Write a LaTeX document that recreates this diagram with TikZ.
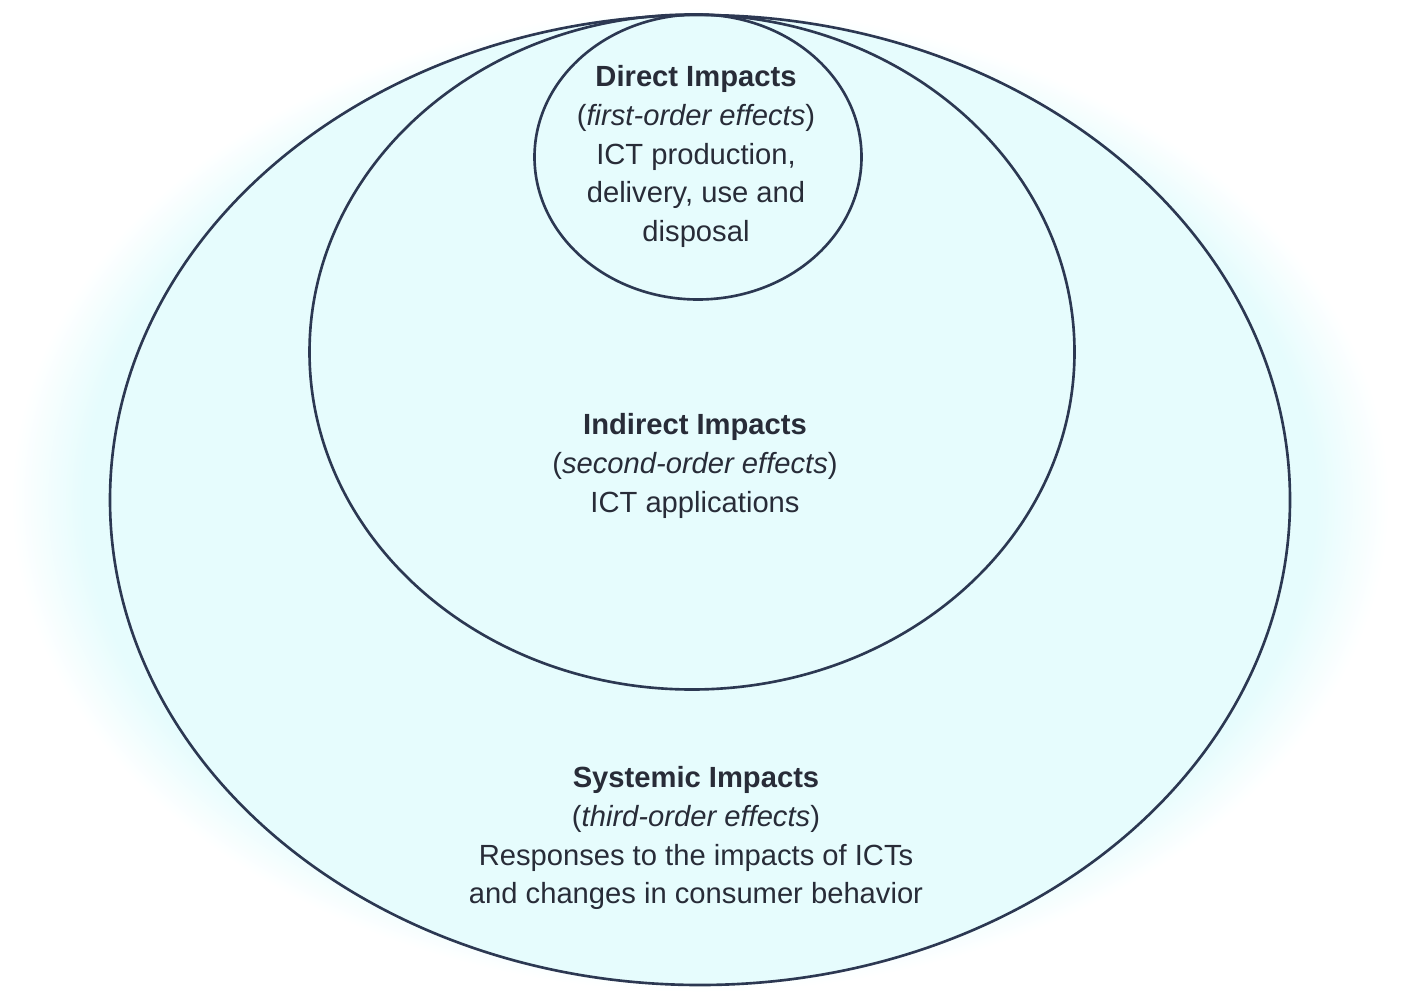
\documentclass[tikz,border=0pt]{standalone}
\usepackage{fontspec}
\setmainfont{Liberation Sans}
\usetikzlibrary{shapes.geometric}

\definecolor{glowcyan}{RGB}{230,252,253}
\definecolor{ringnavy}{RGB}{44,56,82}
\definecolor{textdark}{RGB}{40,44,56}
\pgfdeclareradialshading{glow}{\pgfpoint{0bp}{0bp}}{color(0bp)=(glowcyan); color(22bp)=(glowcyan); color(24.6bp)=(white); color(50bp)=(white)}

\begin{document}
\begin{tikzpicture}[
    x=0.1mm, y=-0.1mm,
    ring/.style={ellipse, draw=ringnavy, line width=0.75pt, inner sep=0pt, outer sep=0pt},
    impacttext/.style={align=center, inner sep=0pt, anchor=north, text=textdark, font=\fontsize{8.3}{11}\selectfont}
]
\useasboundingbox (0,0) rectangle (1408,1001);

% Hintergrund
\shade[shading=glow] (700,500) ellipse (700 and 500);

% Ringe
\node[ring, fill=glowcyan, minimum width=118mm, minimum height=97mm] (systemic) at (700,500) {};
\node[ring, minimum width=76.5mm, minimum height=67.5mm] (indirect) at (692,352) {};
\node[ring, minimum width=32.7mm, minimum height=28.5mm] (direct) at (698,157) {};

% Texte
\node[impacttext] (directtext) at (696,65) {\textbf{Direct Impacts}\\(\textit{first-order effects})\\ICT production,\\delivery, use and\\disposal};
\node[impacttext] (indirecttext) at (695,413) {\textbf{Indirect Impacts}\\(\textit{second-order effects})\\ICT applications};
\node[impacttext] (systemictext) at (696,766) {\textbf{Systemic Impacts}\\(\textit{third-order effects})\\Responses to the impacts of ICTs\\and changes in consumer behavior};

\end{tikzpicture}
\end{document}
